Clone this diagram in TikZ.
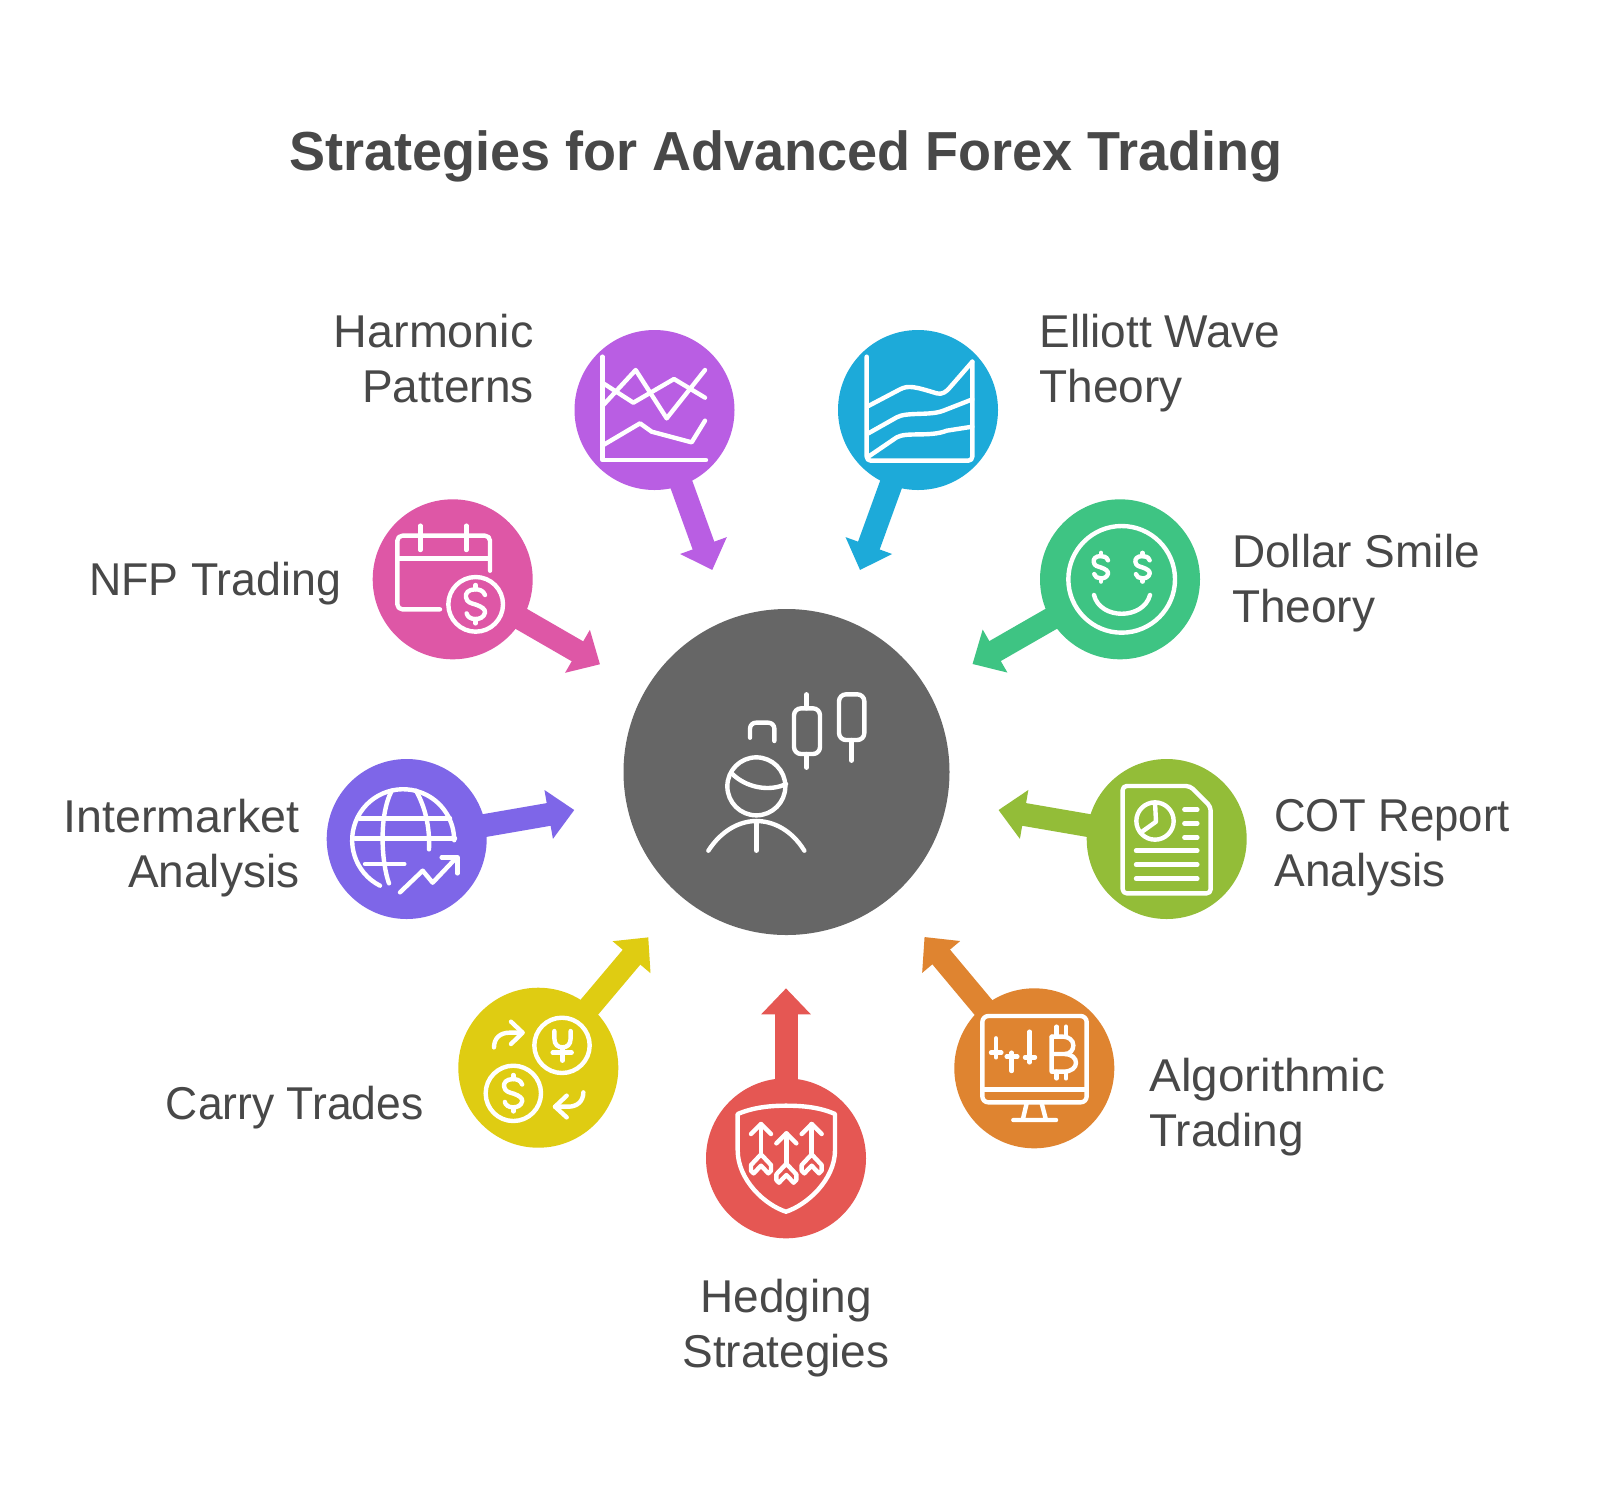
\documentclass[tikz,border=0pt]{standalone}
\usepackage{fontspec}
\setmainfont{Liberation Sans}
\usetikzlibrary{arrows.meta}
\definecolor{cpurple}{HTML}{B95EE3}
\definecolor{cblue}{HTML}{1DAAD9}
\definecolor{cpink}{HTML}{DE57A6}
\definecolor{cgreen}{HTML}{3EC483}
\definecolor{cviolet}{HTML}{7E66E8}
\definecolor{clime}{HTML}{93BD38}
\definecolor{cyellow}{HTML}{DFCC12}
\definecolor{corange}{HTML}{DF8430}
\definecolor{cred}{HTML}{E55753}
\definecolor{ccentre}{HTML}{666666}
\definecolor{ctext}{HTML}{484848}
\tikzset{
  disc/.style={circle,minimum size=80pt,inner sep=0pt,outer sep=0pt,fill=#1},
  hub/.style={circle,minimum size=163pt,inner sep=0pt,outer sep=0pt,fill=ccentre},
  link/.style={draw=#1,line width=11.5pt,-{Triangle[width=24pt,length=13pt,fill=#1]}},
  icon/.style={draw=white,line width=2.2pt,line cap=round,line join=round,fill=none},
  zoomed/.style={shift={#1},x=0.16667pt,y=-0.16667pt},
  label/.style={text=ctext,inner sep=0pt,font=\fontsize{23}{27.5}\selectfont},
  ttl/.style={text=ctext,inner sep=0pt,font=\fontsize{27.5}{32}\selectfont\bfseries}
}
\newcommand{\hs}[2]{\scalebox{#1}[1]{#2}}
\newcommand{\moneysign}[3]{%
  \begin{scope}[shift={(#1,#2)},scale=#3]
    \draw[icon] (28,-28) .. controls (23,-43) and (8,-45) .. (-2,-45) .. controls (-22,-45) and (-32,-33) .. (-29,-21) .. controls (-27,-5) and (-12,-3) .. (1,1) .. controls (18,7) and (30,15) .. (28,25) .. controls (25,39) and (11,45) .. (-2,44) .. controls (-15,44) and (-25,37) .. (-27,27);
    \draw[icon] (0,-58) -- (0,-45) (0,44) -- (0,57);
  \end{scope}}
\newcommand{\kitearrow}[2]{%
  \draw[icon] (#1,#2+91) -- (#1,#2);
  \draw[icon] (#1-30,#2+30) -- (#1,#2) -- (#1+30,#2+30);
  \draw[icon] (#1,#2+91) -- (#1+30,#2+123) -- (#1+30,#2+140) -- (#1+22,#2+148) -- (#1,#2+125) -- (#1-22,#2+148) -- (#1-30,#2+140) -- (#1-30,#2+123) -- cycle;}
\begin{document}
\begin{tikzpicture}[x=0.5pt,y=-0.5pt]
\useasboundingbox (0,0) rectangle (1600,1490);
\fill[white] (0,0) rectangle (1600,1490);
\node[ttl] (title) at (786,156) {\hs{0.982}{Strategies for Advanced Forex Trading}};
\node[hub] (centre) at (786.5,772) {};
\node[disc=cpurple] (harm) at (654.5,410) {};
\node[disc=cblue] (ell) at (918,410) {};
\node[disc=cpink] (nfp) at (452.7,579.3) {};
\node[disc=cgreen] (smile) at (1120,579.3) {};
\node[disc=cviolet] (inter) at (406.7,839) {};
\node[disc=clime] (cot) at (1166.7,839) {};
\node[disc=cyellow] (carry) at (538.3,1067.7) {};
\node[disc=corange] (algo) at (1034.3,1068.3) {};
\node[disc=cred] (hedge) at (786,1158.3) {};
\coordinate (tharm) at (712.3,570);
\coordinate (tell) at (860,570);
\coordinate (tnfp) at (600,664.3);
\coordinate (tsmile) at (972.5,664);
\coordinate (tinter) at (574.3,810);
\coordinate (tcot) at (998.5,810);
\coordinate (tcarry) at (648.3,937.3);
\coordinate (talgo) at (924.5,937);
\coordinate (thedge) at (786,988.3);
\draw[link=cpurple] (harm.center) -- (tharm);
\draw[link=cblue] (ell.center) -- (tell);
\draw[link=cpink] (nfp.center) -- (tnfp);
\draw[link=cgreen] (smile.center) -- (tsmile);
\draw[link=cviolet] (inter.center) -- (tinter);
\draw[link=clime] (cot.center) -- (tcot);
\draw[link=cyellow] (carry.center) -- (tcarry);
\draw[link=corange] (algo.center) -- (talgo);
\draw[link=cred] (hedge.center) -- (thedge);
% labels
\node[label,anchor=east,align=right] (lharm) at (534,359) {\hs{1.015}{Harmonic}\\Patterns};
\node[label,anchor=west,align=left] (lell) at (1039,363) {Elliott Wave\\Theory};
\node[label,anchor=west,align=left] (lsmile) at (1231.6,583) {Dollar Smile\\Theory};
\node[label,anchor=east,align=right] (lnfp) at (341.5,584) {\hs{0.972}{NFP Trading}};
\node[label,anchor=east,align=right] (linter) at (299.7,848) {\hs{1.013}{Intermarket}\\Analysis};
\node[label,anchor=west,align=left] (lcot) at (1274,848) {\hs{0.95}{COT Report}\\Analysis};
\node[label,anchor=east,align=right] (lcarry) at (424,1108) {\hs{0.966}{Carry Trades}};
\node[label,anchor=west,align=left] (lalgo) at (1149,1107) {\hs{1.036}{Algorithmic}\\Trading};
\node[label,align=center] (lhedge) at (786,1328) {Hedging\\Strategies};
% purple icon
\begin{scope}[zoomed={(540,310)}]
\draw[icon] (187,140) -- (187,450) -- (498,450);
\draw[icon] (190,285) -- (287,180) -- (380,325) -- (495,180);
\draw[icon] (190,220) -- (280,278) -- (402,207) -- (495,263);
\draw[icon] (190,405) -- (300,340) -- (335,365) -- (455,397) -- (495,332);
% blue icon
\draw[icon,rounded corners=2pt] (980,140) -- (980,452) -- (1297,452) -- (1297,155);
\draw[icon] (985,288) -- (1080,238) .. controls (1105,225) and (1125,230) .. (1190,250) .. controls (1205,255) and (1220,245) .. (1230,232) -- (1297,155);
\draw[icon] (985,370) -- (1070,322) .. controls (1100,305) and (1170,318) .. (1210,302) -- (1297,268);
\draw[icon] (985,440) -- (1070,382) .. controls (1100,365) and (1170,382) .. (1220,362) -- (1297,350);
\end{scope}
% pink icon
\begin{scope}[zoomed={(340,480)}]
\draw[icon,rounded corners=2.5pt] (300,388) -- (172,388) -- (172,167) -- (450,167) -- (450,272);
\draw[icon] (175,236) -- (445,236) (241,137) -- (241,210) (379,137) -- (379,210);
\draw[icon] (407,373) circle[radius=82];
\moneysign{407}{373}{1}
\end{scope}
% green icon
\begin{scope}[zoomed={(1000,480)}]
\draw[icon] (365,298) circle[radius=160];
\moneysign{303}{262}{0.75}
\moneysign{428}{262}{0.75}
\draw[icon] (282,345) .. controls (300,420) and (430,420) .. (450,345);
\end{scope}
% centre icon
\begin{scope}[zoomed={(660,660)}]
\draw[icon,rounded corners=3.5pt] (402,145) rectangle (480,282);
\draw[icon] (440,103) -- (440,145) (440,282) -- (440,323);
\draw[icon,rounded corners=3.5pt] (537,103) rectangle (613,240);
\draw[icon] (575,240) -- (575,302);
\draw[icon,rounded corners=3pt] (270,233) -- (270,188) -- (343,188) -- (343,243);
\draw[icon] (289,379) circle[radius=87];
\draw[icon] (215,340) .. controls (260,385) and (330,395) .. (378,372);
\draw[icon] (145,572) .. controls (185,510) and (240,483) .. (289,483) .. controls (340,483) and (395,510) .. (433,572);
\draw[icon] (289,483) -- (289,572);
\end{scope}
% violet icon
\begin{scope}[zoomed={(310,750)}]
\draw[icon] (210,407) arc[start angle=117,end angle=360,radius=153];
\draw[icon] (135,265) -- (435,265) (148,205) -- (420,205) (165,342) -- (283,342);
\draw[icon] (237,400) .. controls (215,340) and (205,200) .. (245,122);
\draw[icon] (318,122) .. controls (345,170) and (360,230) .. (357,298);
\draw[icon] (270,427) -- (338,362) -- (368,398) -- (440,322);
\draw[icon] (395,322) -- (442,322) -- (442,370);
\end{scope}
% lime icon
\begin{scope}[zoomed={(1000,750)}]
\draw[icon,rounded corners=2pt] (570,108) -- (368,108) -- (368,430) -- (632,430) -- (632,170) -- cycle;
\draw[icon] (465,213) circle[radius=56];
\draw[icon] (465,157) -- (468,215) -- (422,248);
\draw[icon] (553,179) -- (592,179) (553,220) -- (592,220) (553,262) -- (592,262);
\draw[icon] (408,302) -- (592,302) (408,344) -- (592,344) (408,386) -- (592,386);
\end{scope}
% yellow icon
\begin{scope}[zoomed={(450,930)}]
\draw[icon] (336,346) circle[radius=83];
\draw[icon] (190,490) circle[radius=83];
\moneysign{190}{490}{0.95}
\draw[icon] (313,303) -- (313,325) .. controls (313,345) and (325,352) .. (337,352) .. controls (350,352) and (362,345) .. (362,325) -- (362,303);
\draw[icon] (337,352) -- (337,392) (308,368) -- (365,368);
\draw[icon] (132,352) .. controls (132,325) and (150,308) .. (178,308) -- (215,308);
\draw[icon] (183,275) -- (218,308) -- (183,342);
\draw[icon] (400,487) .. controls (400,515) and (380,530) .. (355,530) -- (315,530);
\draw[icon] (350,497) -- (315,530) -- (350,562);
\end{scope}
% orange icon
\begin{scope}[zoomed={(930,930)}]
\draw[icon,rounded corners=3pt] (157,258) rectangle (470,517);
\draw[icon] (160,478) -- (468,478);
\draw[icon] (290,520) -- (278,570) (335,520) -- (348,570) (250,570) -- (378,570);
\draw[icon] (198,325) -- (198,382) (183,368) -- (214,368);
\draw[icon] (245,368) -- (245,423) (230,380) -- (262,380);
\draw[icon] (299,305) -- (299,397) (285,382) -- (315,382);
\draw[icon] (365,320) -- (365,425) -- (400,425) .. controls (425,425) and (438,412) .. (438,398) .. controls (438,385) and (425,372) .. (405,372) -- (365,372);
\draw[icon] (405,372) .. controls (420,372) and (430,360) .. (430,346) .. controls (430,330) and (415,320) .. (400,320) -- (365,320);
\draw[icon] (380,290) -- (380,320) (408,290) -- (408,320) (380,425) -- (380,445) (408,425) -- (408,445);
\end{scope}
% red icon
\begin{scope}[zoomed={(690,980)}]
\draw[icon] (143,402) .. controls (190,382) and (240,377) .. (288,377) .. controls (340,377) and (390,382) .. (435,402) -- (435,510) .. controls (435,600) and (350,675) .. (288,695) .. controls (225,675) and (143,600) .. (143,510) -- cycle;
\kitearrow{213}{432}
\kitearrow{289}{460}
\kitearrow{365}{432}
\end{scope}
\end{tikzpicture}
\end{document}
